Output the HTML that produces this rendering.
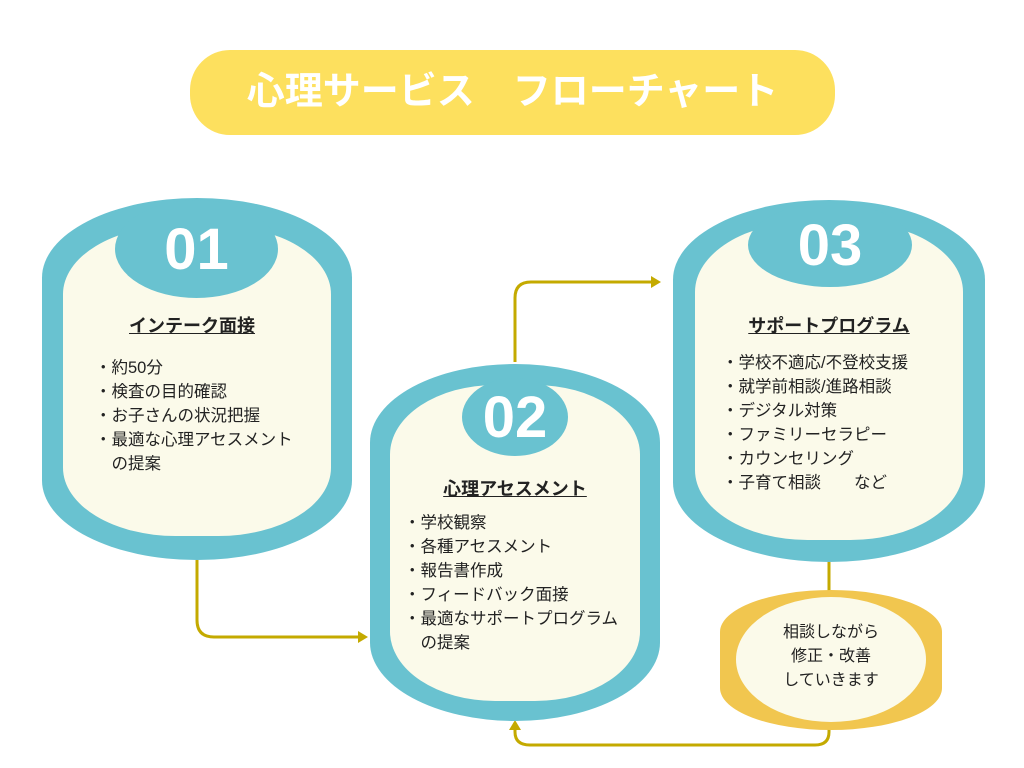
<!DOCTYPE html>
<html><head><meta charset="utf-8"><style>
body{margin:0;width:1024px;height:768px;background:#fff;position:relative;overflow:hidden;font-family:"Liberation Sans","Noto Sans CJK JP",sans-serif;color:#222}
.a{position:absolute}
.out{background:#69c2d0;border-radius:50%/22%}
.in{background:#fbfaea;border-radius:42%/22%}
.badge{background:#69c2d0;border-radius:50%;color:#fff;font-weight:bold;font-size:58px;text-align:center;font-family:"Liberation Sans",sans-serif}
.h{font-weight:bold;font-size:18px;text-decoration:underline;text-align:center}
.l{font-size:16.5px;line-height:24px;white-space:pre}
</style></head><body>
<div class="a" style="left:190px;top:50px;width:645px;height:85px;background:#fde05e;border-radius:40px;color:#fff;font-weight:bold;font-size:38px;text-align:center;line-height:85px">心理サービス　フローチャート</div>

<svg class="a" style="left:0;top:0" width="1024" height="768">
<g fill="none" stroke="#c4aa00" stroke-width="3">
<path d="M197 560 V620 Q197 637 214 637 H362"/>
<path d="M515 362 V298 Q515 282 531 282 H655"/>
<path d="M829 562 V592"/>
<path d="M829 728 V732 Q829 745 815 745 H530 Q515 745 515 732 V726"/>
</g>
<g fill="#c4aa00">
<path d="M368 637 L358 631 L358 643Z"/>
<path d="M661 282 L651 276 L651 288Z"/>
<path d="M515 720 L509 730 L521 730Z"/>
</g>
</svg>

<div class="a out" style="left:42px;top:198px;width:310px;height:362px"></div>
<div class="a in" style="left:63px;top:226px;width:268px;height:310px"></div>
<div class="a badge" style="left:115px;top:200px;width:163px;height:98px;line-height:100px">01</div>
<div class="a h" style="left:63px;top:312px;width:258px">インテーク面接</div>
<div class="a l" style="left:95px;top:356px">・約50分
・検査の目的確認
・お子さんの状況把握
・最適な心理アセスメント
　の提案</div>

<div class="a out" style="left:370px;top:364px;width:290px;height:357px"></div>
<div class="a in" style="left:390px;top:385px;width:250px;height:316px"></div>
<div class="a badge" style="left:462px;top:378px;width:106px;height:78px;line-height:80px">02</div>
<div class="a h" style="left:390px;top:475px;width:250px">心理アセスメント</div>
<div class="a l" style="left:404px;top:511px">・学校観察
・各種アセスメント
・報告書作成
・フィードバック面接
・最適なサポートプログラム
　の提案</div>

<div class="a out" style="left:673px;top:200px;width:312px;height:362px"></div>
<div class="a in" style="left:695px;top:222px;width:268px;height:318px"></div>
<div class="a badge" style="left:748px;top:203px;width:164px;height:84px;line-height:86px">03</div>
<div class="a h" style="left:695px;top:312px;width:268px">サポートプログラム</div>
<div class="a l" style="left:722px;top:351px">・学校不適応/不登校支援
・就学前相談/進路相談
・デジタル対策
・ファミリーセラピー
・カウンセリング
・子育て相談　　など</div>

<div class="a" style="left:720px;top:590px;width:222px;height:140px;background:#f1c64f;border-radius:50%/30%"></div>
<div class="a" style="left:736px;top:597px;width:190px;height:125px;background:#fbfaea;border-radius:50%"></div>
<div class="a" style="left:736px;top:621px;width:190px;text-align:center;font-size:16px;line-height:24px">相談しながら<br>修正・改善<br>していきます</div>
</body></html>
